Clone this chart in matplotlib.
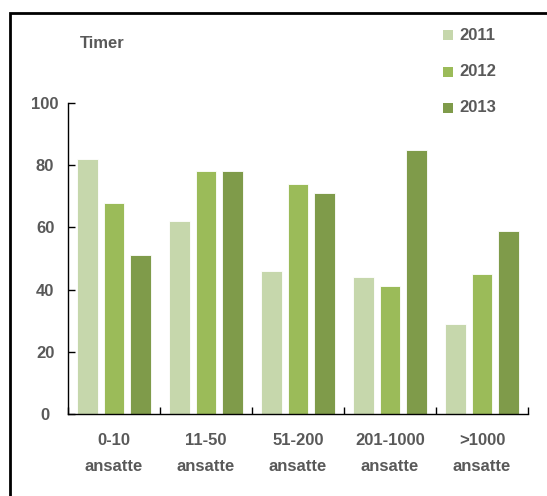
import matplotlib
matplotlib.use('Agg')
import matplotlib.pyplot as plt
from matplotlib.patches import Rectangle
import numpy as np

categories = ['0-10\nansatte', '11-50\nansatte', '51-200\nansatte', '201-1000\nansatte', '>1000\nansatte']
years = ['2011', '2012', '2013']
v2011 = [82, 62, 46, 44, 29]
v2012 = [68, 78, 74, 41, 45]
v2013 = [51, 78, 71, 85, 59]
colors = ['#c6d7ac', '#9bbb59', '#7f9b4a']
grey = '#595959'

plt.rcParams['font.family'] = ['Liberation Sans', 'DejaVu Sans']
plt.rcParams['font.weight'] = 'bold'

fig = plt.figure(figsize=(5.47, 4.96), dpi=100)
W, H = 547, 496
ax = fig.add_axes([68 / W, 1 - 414 / H, 460 / W, 311 / H])

x = np.arange(len(categories))
width = 0.223
step = 0.288
for i, (vals, c) in enumerate(zip([v2011, v2012, v2013], colors)):
    ax.bar(x + (i - 1) * step, vals, width, color=c, edgecolor='white', linewidth=0.6, label=years[i])

ax.set_xlim(-0.5, len(categories) - 0.5)
ax.set_ylim(0, 100)
ax.set_yticks(range(0, 101, 20))
ax.set_xticks(x)
ax.set_xticklabels(categories, fontsize=12, color=grey, linespacing=1.85)
ax.set_xticks(np.arange(len(categories) + 1) - 0.5, minor=True)
ax.tick_params(axis='x', which='major', length=0, pad=14)
ax.tick_params(axis='x', which='minor', direction='in', length=5, width=1)
ax.tick_params(axis='y', direction='in', length=5, width=1, labelsize=12, labelcolor=grey, pad=16.5)
for lab in ax.get_yticklabels():
    lab.set_horizontalalignment('center')
for s in ['top', 'right']:
    ax.spines[s].set_visible(False)
for s in ['left', 'bottom']:
    ax.spines[s].set_linewidth(1)
    ax.spines[s].set_color('black')

fig.text(80 / W, 1 - 43 / H, 'Timer', fontsize=12, color=grey, va='center')

# legend, stacked at the top right
for i, (yr, c) in enumerate(zip(years, colors)):
    yc = 1 - (35 + 36.5 * i) / H
    fig.patches.append(Rectangle((443 / W, yc - 5 / H), 10 / W, 10 / H, transform=fig.transFigure,
                                 facecolor=c, edgecolor='none'))
    fig.text(459 / W, yc, yr, fontsize=12, color=grey, va='center')

# outer frame (runs off the right and bottom edges)
fig.patches.append(Rectangle((9.5 / W, -0.2), 1.2, 1.2 - 12.5 / H, transform=fig.transFigure,
                             facecolor='none', edgecolor='black', linewidth=2, clip_on=False))

fig.savefig('out.png', dpi=100)
